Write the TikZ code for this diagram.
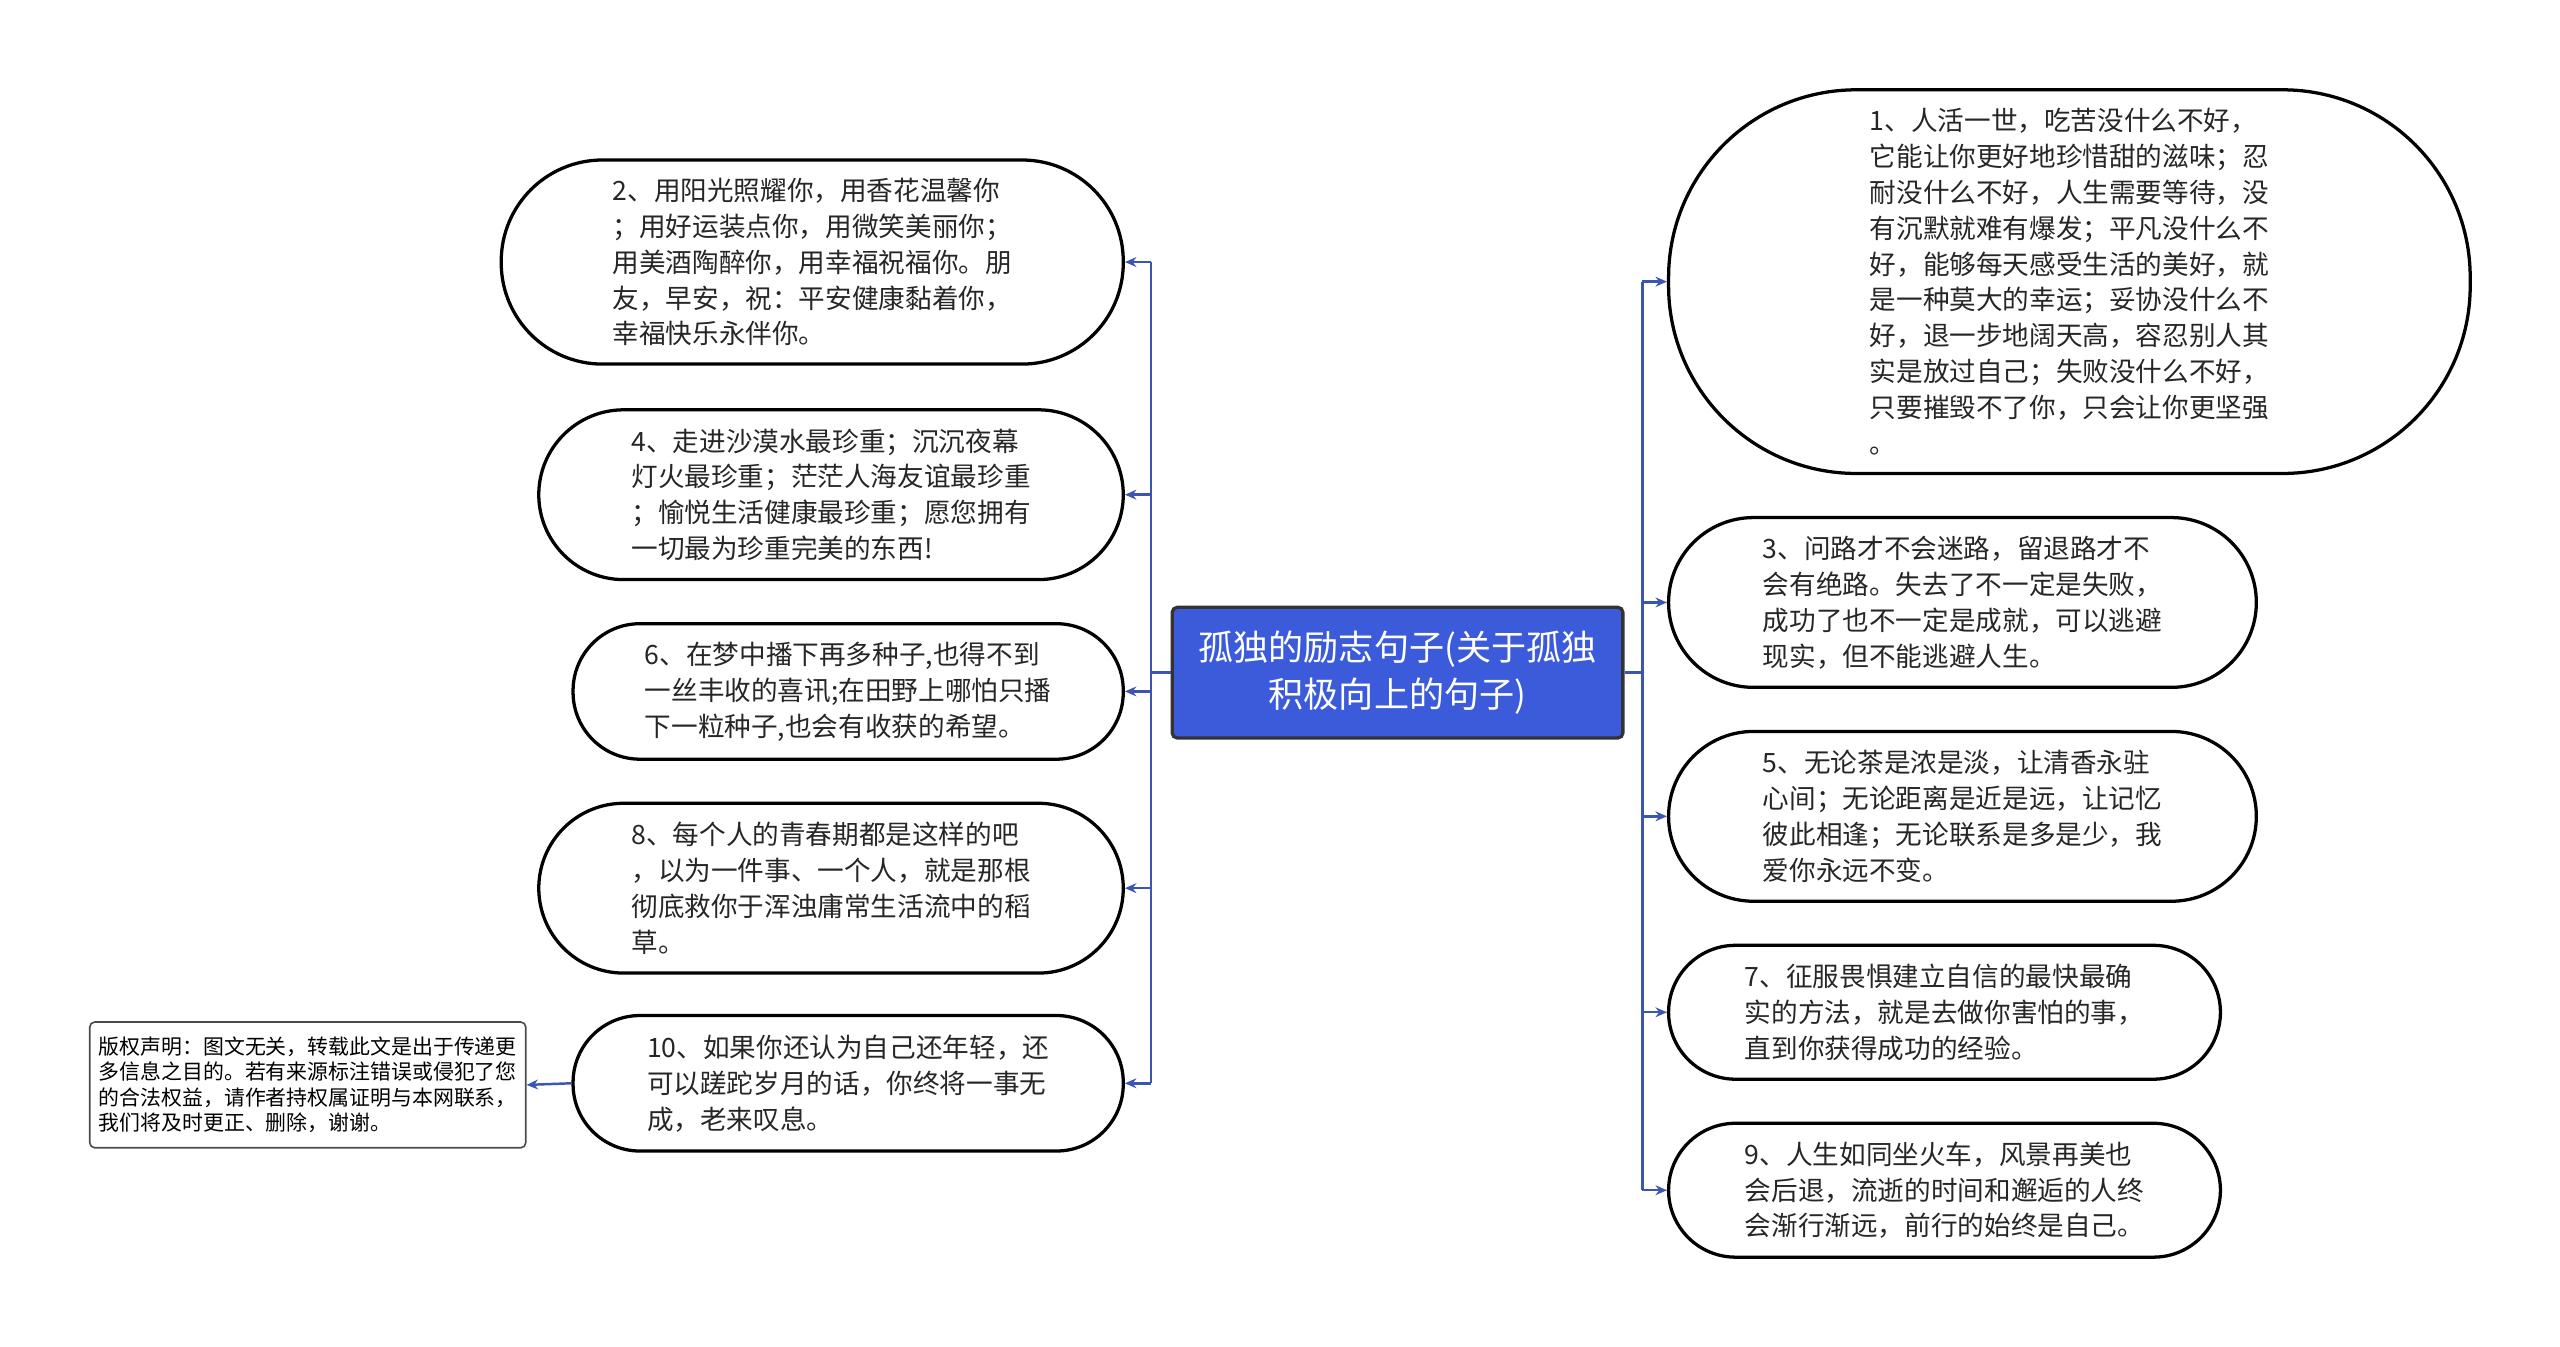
\documentclass[tikz,border=0pt]{standalone}
\usepackage{fontspec}
\setmainfont{Noto Sans CJK SC}
\usetikzlibrary{arrows.meta}
\definecolor{lk}{HTML}{3A56B0}
\definecolor{cb}{HTML}{3B5BDB}
\tikzset{
 bub/.style={draw=black,line width=2pt,align=left,inner sep=0pt,text=black!85,font=\fontsize{16.3pt}{22pt}\selectfont},
 arr/.style={draw=lk,line width=1.5pt,-{Stealth[length=7pt,width=6pt]}},
 ln/.style={draw=lk,line width=1.5pt},
}
\begin{document}
\begin{tikzpicture}[x=1pt,y=-1pt]
\useasboundingbox (0,0) rectangle (1568,825);
\node[draw=black!80,line width=2pt,fill=cb,text=white,rounded corners=3pt,minimum width=276pt,minimum height=80pt,align=center,font=\fontsize{21.5pt}{29pt}\selectfont] (c) at (856,412) {孤独的励志句子(关于孤独\\积极向上的句子)};
% left
\node[bub,rounded corners=62pt,minimum width=381pt,minimum height=125pt] (b2) at (497.5,160.5) {2、用阳光照耀你，用香花温馨你\\；用好运装点你，用微笑美丽你；\\用美酒陶醉你，用幸福祝福你。朋\\友，早安，祝：平安健康黏着你，\\幸福快乐永伴你。};
\node[bub,rounded corners=52pt,minimum width=358pt,minimum height=104pt] (b4) at (509,303) {4、走进沙漠水最珍重；沉沉夜幕\\灯火最珍重；茫茫人海友谊最珍重\\；愉悦生活健康最珍重；愿您拥有\\一切最为珍重完美的东西!};
\node[bub,rounded corners=41pt,minimum width=337pt,minimum height=83pt] (b6) at (519.5,423.5) {6、在梦中播下再多种子,也得不到\\一丝丰收的喜讯;在田野上哪怕只播\\下一粒种子,也会有收获的希望。};
\node[bub,rounded corners=52pt,minimum width=358pt,minimum height=104pt] (b8) at (509,544) {8、每个人的青春期都是这样的吧\\，以为一件事、一个人，就是那根\\彻底救你于浑浊庸常生活流中的稻\\草。};
\node[bub,rounded corners=41pt,minimum width=337pt,minimum height=83pt] (b10) at (519.5,663.5) {10、如果你还认为自己还年轻，还\\可以蹉跎岁月的话，你终将一事无\\成，老来叹息。};
\node[draw=black!70,line width=1pt,rounded corners=3pt,minimum width=267pt,minimum height=77pt,align=left,inner sep=0pt,font=\fontsize{12.8pt}{15.5pt}\selectfont] (cp) at (188.5,664.5) {版权声明：图文无关，转载此文是出于传递更\\多信息之目的。若有来源标注错误或侵犯了您\\的合法权益，请作者持权属证明与本网联系，\\我们将及时更正、删除，谢谢。};
% right
\node[bub,rounded corners=115pt,minimum width=491pt,minimum height=235pt] (b1) at (1267.5,172.5) {1、人活一世，吃苦没什么不好，\\它能让你更好地珍惜甜的滋味；忍\\耐没什么不好，人生需要等待，没\\有沉默就难有爆发；平凡没什么不\\好，能够每天感受生活的美好，就\\是一种莫大的幸运；妥协没什么不\\好，退一步地阔天高，容忍别人其\\实是放过自己；失败没什么不好，\\只要摧毁不了你，只会让你更坚强\\。};
\node[bub,rounded corners=52pt,minimum width=360pt,minimum height=104pt] (b3) at (1202,369) {3、问路才不会迷路，留退路才不\\会有绝路。失去了不一定是失败，\\成功了也不一定是成就，可以逃避\\现实，但不能逃避人生。};
\node[bub,rounded corners=52pt,minimum width=360pt,minimum height=104pt] (b5) at (1202,500) {5、无论茶是浓是淡，让清香永驻\\心间；无论距离是近是远，让记忆\\彼此相逢；无论联系是多是少，我\\爱你永远不变。};
\node[bub,rounded corners=41pt,minimum width=338pt,minimum height=82pt] (b7) at (1191,620) {7、征服畏惧建立自信的最快最确\\实的方法，就是去做你害怕的事，\\直到你获得成功的经验。};
\node[bub,rounded corners=41pt,minimum width=338pt,minimum height=82pt] (b9) at (1191,729) {9、人生如同坐火车，风景再美也\\会后退，流逝的时间和邂逅的人终\\会渐行渐远，前行的始终是自己。};
% connectors
\draw[ln] (c.west) -- ++(-12,0) coordinate (lt);
\draw[ln] (lt |- b2.east) -- (lt |- b10.east);
\foreach \n in {b2,b4,b6,b8,b10} \draw[arr] (lt |- \n.east) -- (\n.east);
\draw[ln] (c.east) -- ++(11,0) coordinate (rt);
\draw[ln] (rt |- b1.west) -- (rt |- b9.west);
\foreach \n in {b1,b3,b5,b7,b9} \draw[arr] (rt |- \n.west) -- (\n.west);
\draw[arr] (b10.west) -- (cp.east);
\end{tikzpicture}
\end{document}
